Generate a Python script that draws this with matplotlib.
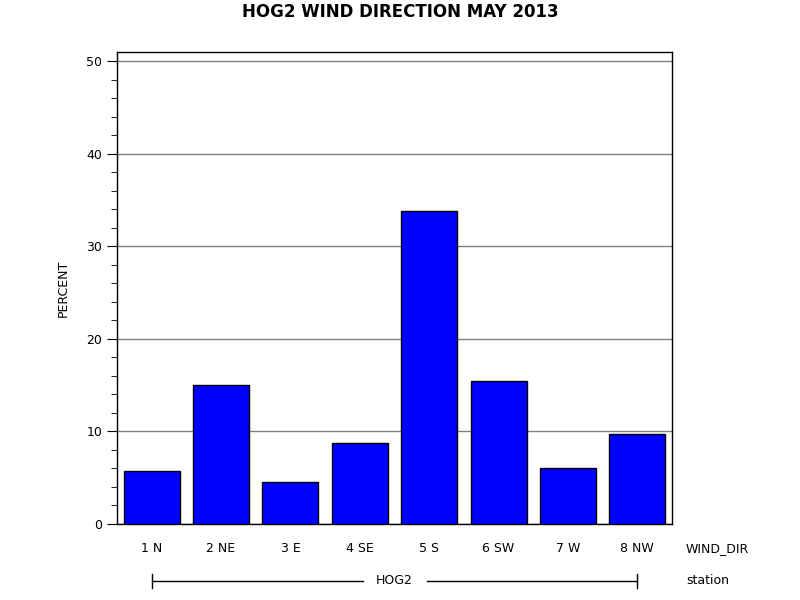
"""HOG2 wind direction, May 2013."""
import matplotlib
matplotlib.use('Agg')
import matplotlib.pyplot as plt
from matplotlib.ticker import MultipleLocator

# Datos
direcciones = ['1 N', '2 NE', '3 E', '4 SE', '5 S', '6 SW', '7 W', '8 NW']
porcentaje = [5.7, 15.0, 4.5, 8.7, 33.8, 15.5, 6.1, 9.7]
estacion = 'HOG2'

plt.rcParams['font.family'] = ['DejaVu Sans']

fig = plt.figure(figsize=(8, 6), dpi=100)
ax = fig.add_axes([0.14625, 0.1267, 0.69375, 0.7866])

x = range(len(direcciones))
ax.bar(x, porcentaje, width=0.807, color='#0000ff', edgecolor='black',
       linewidth=1, zorder=3)

ax.set_xlim(-0.5, len(direcciones) - 0.5)
ax.set_ylim(0, 51)
ax.yaxis.set_major_locator(MultipleLocator(10))
ax.yaxis.set_minor_locator(MultipleLocator(2))
ax.grid(axis='y', which='major', color='#808080', linewidth=1, zorder=1)
ax.tick_params(axis='y', which='major', length=7, labelsize=9)
ax.tick_params(axis='y', which='minor', length=4)
ax.set_xticks(list(x))
ax.set_xticklabels(direcciones, fontsize=9)
ax.tick_params(axis='x', length=0, pad=13)
for s in ax.spines.values():
    s.set_linewidth(1)

ax.set_ylabel('PERCENT', fontsize=9, labelpad=12)
fig.suptitle('HOG2 WIND DIRECTION MAY 2013', fontsize=12, fontweight='bold',
             y=0.995)

# Etiquetas de los ejes de grupo
fig.text(686 / 800, 1 - 549 / 600, 'WIND_DIR', fontsize=9, va='center')
fig.text(686 / 800, 1 - 581 / 600, 'station', fontsize=9, va='center')

# Linea de la estacion debajo de las categorias
tr = ax.get_xaxis_transform()
y_l = -0.12
ax.plot([0, 3.05], [y_l, y_l], color='black', lw=1, transform=tr,
        clip_on=False)
ax.plot([3.97, 7], [y_l, y_l], color='black', lw=1, transform=tr,
        clip_on=False)
ax.plot([0, 0], [y_l - 0.015, y_l + 0.015], color='black', lw=1,
        transform=tr, clip_on=False)
ax.plot([7, 7], [y_l - 0.015, y_l + 0.015], color='black', lw=1,
        transform=tr, clip_on=False)
ax.text(3.5, y_l, estacion, transform=tr, ha='center', va='center',
        fontsize=9)

plt.savefig('out.png', dpi=100)
